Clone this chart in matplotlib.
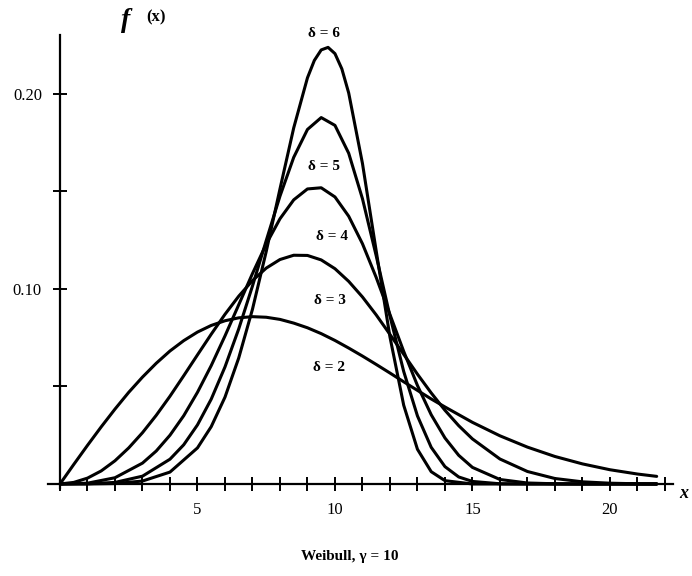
import matplotlib
matplotlib.use("Agg")
import matplotlib.pyplot as plt
from matplotlib.ticker import MultipleLocator, FixedLocator

# Weibull densities (gamma = 10)
x_a = [0, 0.5, 1, 1.5, 2, 2.5, 3, 3.5, 4, 4.5, 5, 5.5, 6, 6.5, 7, 7.5, 8, 8.5, 9, 9.5, 10, 10.5,
       11, 11.5, 12, 12.5, 13, 13.5, 14, 15, 16, 17, 18, 19, 20, 21, 21.7]
f_d2 = [0, 0.0100, 0.0198, 0.0293, 0.0384, 0.0470, 0.0548, 0.0619, 0.0682, 0.0735, 0.0779, 0.0813,
        0.0837, 0.0852, 0.0858, 0.0855, 0.0844, 0.0825, 0.0801, 0.0771, 0.0736, 0.0697, 0.0656, 0.0613,
        0.0569, 0.0524, 0.0480, 0.0436, 0.0395, 0.0316, 0.0247, 0.0189, 0.0141, 0.0103, 0.0073, 0.0051,
        0.0039]

x_b = [0, 0.5, 1, 1.5, 2, 2.5, 3, 3.5, 4, 4.5, 5, 5.5, 6, 6.5, 7, 7.5, 8, 8.5, 9, 9.5, 10, 10.5,
       11, 11.5, 12, 12.5, 13, 13.5, 14, 14.5, 15, 16, 17, 18, 19, 20, 21, 21.7]
f_d3 = [0, 0.0008, 0.0030, 0.0067, 0.0119, 0.0185, 0.0263, 0.0352, 0.0450, 0.0555, 0.0662, 0.0768,
        0.0870, 0.0963, 0.1043, 0.1107, 0.1151, 0.1173, 0.1172, 0.1149, 0.1104, 0.1039, 0.0959, 0.0867,
        0.0767, 0.0665, 0.0563, 0.0467, 0.0378, 0.0299, 0.0231, 0.0128, 0.0064, 0.0028, 0.0011, 0.0004,
        0.0001, 0]

x_c = [0, 1, 2, 3, 3.5, 4, 4.5, 5, 5.5, 6, 6.5, 7, 7.5, 8, 8.5, 9, 9.5, 10, 10.5, 11, 11.5, 12, 12.5,
       13, 13.5, 14, 14.5, 15, 16, 17, 18, 19, 20, 21, 21.7]
f_d4 = [0, 0.0004, 0.0032, 0.0107, 0.0169, 0.0250, 0.0350, 0.0470, 0.0607, 0.0759, 0.0919, 0.1079,
        0.1230, 0.1360, 0.1457, 0.1513, 0.1519, 0.1472, 0.1373, 0.1232, 0.1059, 0.0869, 0.0680, 0.0505,
        0.0355, 0.0236, 0.0147, 0.0085, 0.0023, 0.0005, 0.0001, 0, 0, 0, 0]

x_d = [0, 1, 2, 3, 4, 4.5, 5, 5.5, 6, 6.5, 7, 7.5, 8, 8.5, 9, 9.5, 10, 10.5, 11, 11.5, 12, 12.5, 13,
       13.5, 14, 14.5, 15, 16, 17, 18, 19, 20, 21, 21.7]
f_d5 = [0, 0.0001, 0.0008, 0.0040, 0.0127, 0.0201, 0.0303, 0.0435, 0.0600, 0.0795, 0.1015, 0.1248,
        0.1476, 0.1675, 0.1818, 0.1879, 0.1839, 0.1696, 0.1463, 0.1170, 0.0861, 0.0577, 0.0349, 0.0188,
        0.0089, 0.0036, 0.0013, 0.0001, 0, 0, 0, 0, 0, 0]

x_e = [0, 1, 2, 3, 4, 5, 5.5, 6, 6.5, 7, 7.5, 8, 8.5, 9, 9.25, 9.5, 9.75, 10, 10.25, 10.5, 11, 11.5,
       12, 12.5, 13, 13.5, 14, 15, 16, 17, 18, 19, 20, 21, 21.7]
f_d6 = [0, 0, 0.0002, 0.0015, 0.0061, 0.0185, 0.0294, 0.0445, 0.0646, 0.0896, 0.1192, 0.1513, 0.1826,
        0.2083, 0.2172, 0.2226, 0.2239, 0.2207, 0.2129, 0.2005, 0.1644, 0.1195, 0.0754, 0.0404, 0.0178,
        0.0063, 0.0017, 0, 0, 0, 0, 0, 0, 0, 0]

curve_labels = ["δ = 2", "δ = 3", "δ = 4", "δ = 5", "δ = 6"]
label_pos = [(9.8, 0.0595), (9.8, 0.094), (9.9, 0.127), (9.6, 0.163), (9.6, 0.231)]

plt.rcParams['font.family'] = ['Liberation Serif', 'DejaVu Serif']

fig = plt.figure(figsize=(6.92, 5.76), dpi=100)
ax = fig.add_axes([0.0688, 0.153, 0.904, 0.7854])

for xs, ys in [(x_a, f_d2), (x_b, f_d3), (x_c, f_d4), (x_d, f_d5), (x_e, f_d6)]:
    ax.plot(xs, ys, color='black', linewidth=2.2, solid_capstyle='round', solid_joinstyle='round')

for txt, (tx, ty) in zip(curve_labels, label_pos):
    ax.text(tx, ty, txt, ha='center', va='center', fontsize=11, fontweight='bold')

ax.set_xlim(-0.45, 22.3)
ax.set_ylim(-0.002, 0.23)

for s in ['top', 'right']:
    ax.spines[s].set_visible(False)
ax.spines['left'].set_position(('data', 0))
ax.spines['bottom'].set_position(('data', 0))
ax.spines['left'].set_linewidth(1.6)
ax.spines['bottom'].set_linewidth(1.6)

ax.xaxis.set_major_locator(FixedLocator([5, 10, 15, 20]))
ax.xaxis.set_minor_locator(MultipleLocator(1))
ax.yaxis.set_major_locator(FixedLocator([0.10, 0.20]))
ax.yaxis.set_minor_locator(FixedLocator([0.05, 0.15]))
ax.set_yticklabels(["0.10", "0.20"])
ax.tick_params(which='both', direction='inout', length=10, width=1.4, labelsize=12, pad=8)

fig.text(0.182, 0.965, "f", fontsize=20, fontweight='bold', style='italic', ha='center', va='center')
fig.text(0.226, 0.970, "(x)", fontsize=12, fontweight='bold', ha='center', va='center')
fig.text(0.988, 0.143, "x", fontsize=13, fontweight='bold', style='italic', ha='center', va='center')
fig.text(0.506, 0.033, "Weibull, γ = 10", fontsize=11, fontweight='bold', ha='center', va='center')

plt.savefig("out.png", dpi=100)
plt.close()
